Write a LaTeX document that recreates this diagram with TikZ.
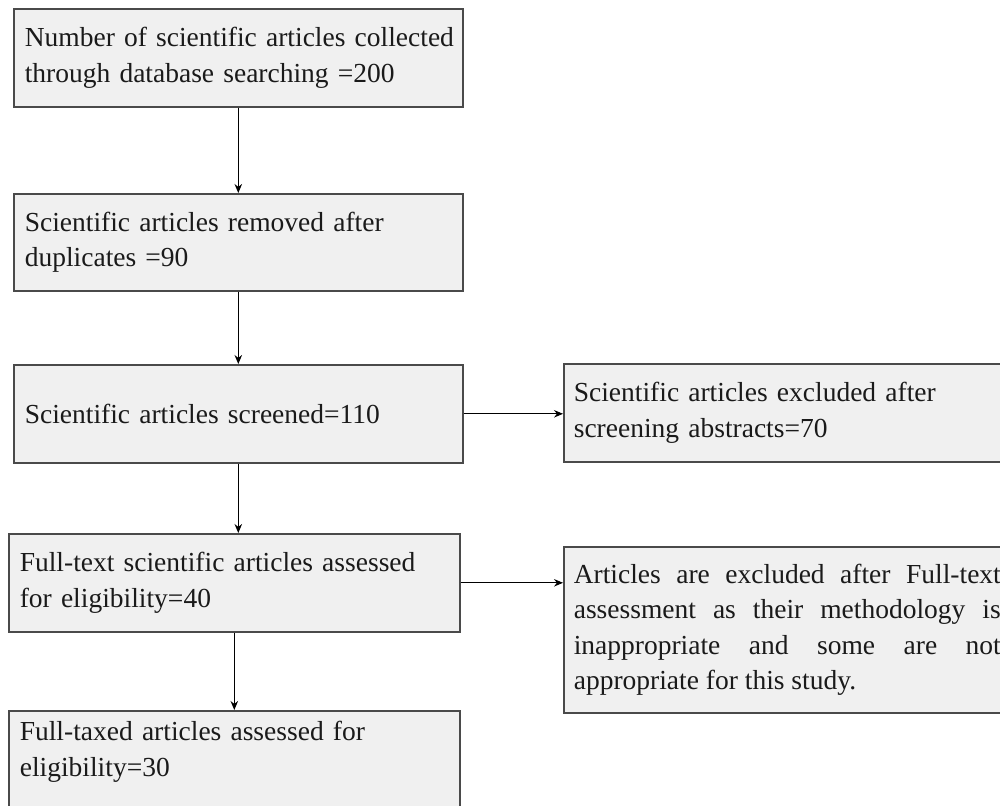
\documentclass[tikz,border=0pt]{standalone}
\usepackage{fontspec}
\setmainfont{Liberation Serif}
\newfontfamily\tightserif[WordSpace=0.7]{Liberation Serif}
\usetikzlibrary{arrows.meta}
\definecolor{boxfill}{HTML}{F0F0F0}
\definecolor{boxline}{HTML}{4A4A4A}
\definecolor{inkcol}{HTML}{1A1A1A}
\begin{document}
\begin{tikzpicture}[x=1pt,y=-1pt,
  box/.style={draw=boxline, fill=boxfill, line width=1.6pt, rectangle, anchor=north west,
    inner xsep=11pt, inner ysep=4pt, align=left, text=inkcol,
    font=\fontsize{27.5}{35.5}\selectfont},
  arr/.style={draw=black, line width=1pt, -{Stealth[length=9pt,width=7.5pt]}}]
\useasboundingbox (0,0) rectangle (1000,805);
\fill[white] (0,0) rectangle (1000,805);
\clip (0,0) rectangle (1000,805);

\node[box, font=\tightserif\fontsize{27.5}{35.5}\selectfont, minimum width=449pt, minimum height=98pt, text width=427pt] (b1) at (13,8)
  {\mbox{Number of scientific articles collected}\\\mbox{through database searching =200}};
\node[box, minimum width=449pt, minimum height=97pt, text width=427pt] (b2) at (13,193)
  {Scientific articles removed after\\duplicates =90};
\node[box, minimum width=449pt, minimum height=98pt, text width=427pt] (b3) at (13,364)
  {Scientific articles screened=110};
\node[box, minimum width=447pt, minimum height=98pt, inner xsep=10pt, text width=427pt] (r1) at (563,363)
  {Scientific articles excluded after\\screening abstracts=70};
\node[box, minimum width=451pt, minimum height=98pt, text width=429pt] (b4) at (8,533)
  {\mbox{Full-text scientific articles assessed}\\for eligibility=40};
\node[box, minimum width=447pt, minimum height=166pt, inner xsep=10pt, text width=427pt, align=justify] (r2) at (563,546)
  {Articles are excluded after Full-text\linebreak assessment as their methodology is\linebreak inappropriate and some are not\linebreak appropriate for this study.};
\node[box, minimum width=451pt, text width=429pt, inner ysep=5pt, text height=25pt, text depth=75pt] (b5) at (8,710)
  {Full-taxed articles assessed for\\eligibility=30};

\draw[arr] (b1.south) -- (b2.north);
\draw[arr] (b2.south) -- (b3.north);
\draw[arr] (b3.south) -- (b3.south |- b4.north);
\draw[arr] (b4.south) -- (b5.north);
\draw[arr] (b3.east) -- (b3.east -| r1.west);
\draw[arr] (b4.east) -- (b4.east -| r2.west);
\end{tikzpicture}
\end{document}
